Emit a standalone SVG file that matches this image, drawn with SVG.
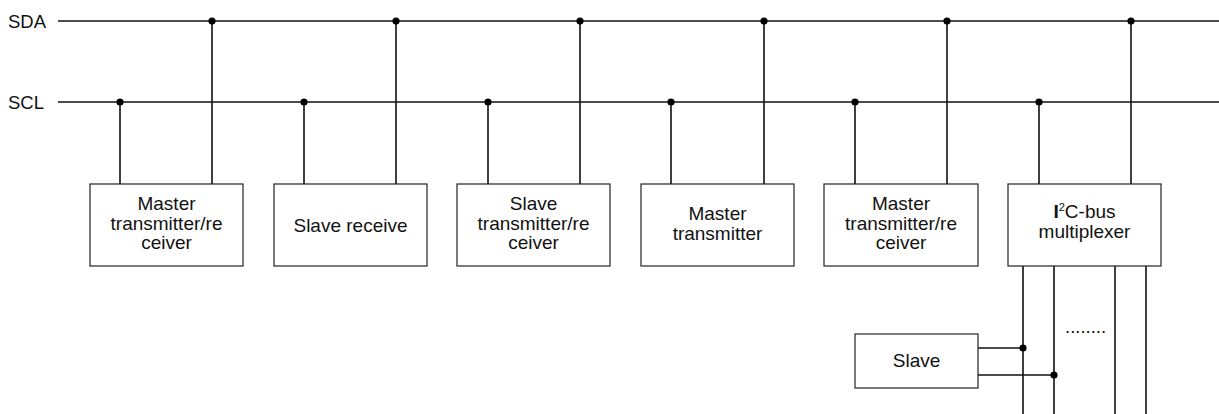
<svg xmlns="http://www.w3.org/2000/svg" width="1219" height="414" viewBox="0 0 1219 414">
<style>
.box{fill:#fff;stroke:#222;stroke-width:1.2}
.w{stroke:#111;stroke-width:1.6;fill:none}
.t{font-family:"Liberation Sans",Arial,sans-serif;font-size:19px;fill:#111;text-anchor:middle}
.l{font-family:"Liberation Sans",Arial,sans-serif;font-size:18.5px;fill:#111}
.d{fill:#000}
</style>
<rect width="1219" height="414" fill="#fff"/>
<text class="l" x="8" y="27.5">SDA</text>
<text class="l" x="8" y="108.5">SCL</text>
<g id="connectors">
<line class="w" x1="58" y1="21" x2="1219" y2="21"/>
<line class="w" x1="58" y1="102" x2="1219" y2="102"/>
<path class="w" d="M120 102V184M212 21V184M304 102V184M396 21V184M488 102V184M580 21V184M671 102V184M764 21V184M855 102V184M947 21V184M1039 102V184M1131 21V184"/>
<path class="w" d="M1023 266V414M1054 266V414M1115 266V414M1146 266V414"/>
<path class="w" d="M978 348H1023M978 375H1054"/>
<g class="d">
<circle cx="212" cy="21" r="3.6"/><circle cx="396" cy="21" r="3.6"/><circle cx="580" cy="21" r="3.6"/><circle cx="764" cy="21" r="3.6"/><circle cx="947" cy="21" r="3.6"/><circle cx="1131" cy="21" r="3.6"/>
<circle cx="120" cy="102" r="3.6"/><circle cx="304" cy="102" r="3.6"/><circle cx="488" cy="102" r="3.6"/><circle cx="671" cy="102" r="3.6"/><circle cx="855" cy="102" r="3.6"/><circle cx="1039" cy="102" r="3.6"/>
<circle cx="1023" cy="348" r="3.6"/><circle cx="1054" cy="375" r="3.6"/>
</g>
</g>
<g id="n1"><rect class="box" x="90" y="184" width="153" height="82"/>
<text class="t" x="166.5" y="210">Master</text><text class="t" x="166.5" y="229.5">transmitter/re</text><text class="t" x="166.5" y="249">ceiver</text></g>
<g id="n2"><rect class="box" x="274" y="184" width="153" height="82"/>
<text class="t" x="350.5" y="231.5">Slave receive</text></g>
<g id="n3"><rect class="box" x="457" y="184" width="153" height="82"/>
<text class="t" x="533.5" y="210">Slave</text><text class="t" x="533.5" y="229.5">transmitter/re</text><text class="t" x="533.5" y="249">ceiver</text></g>
<g id="n4"><rect class="box" x="641" y="184" width="153" height="82"/>
<text class="t" x="717.5" y="220">Master</text><text class="t" x="717.5" y="239.5">transmitter</text></g>
<g id="n5"><rect class="box" x="824" y="184" width="154" height="82"/>
<text class="t" x="901" y="210">Master</text><text class="t" x="901" y="229.5">transmitter/re</text><text class="t" x="901" y="249">ceiver</text></g>
<g id="n6"><rect class="box" x="1008" y="184" width="153" height="82"/>
<text class="t" x="1084.5" y="218"><tspan font-weight="bold">I</tspan><tspan font-size="11" dy="-7">2</tspan><tspan dy="7">C-bus</tspan></text>
<text class="t" x="1084.5" y="238">multiplexer</text></g>
<g id="n7"><rect class="box" x="855" y="334" width="123" height="54"/>
<text class="t" x="916.5" y="367">Slave</text></g>
<text class="l" x="1065" y="333" font-size="16">........</text>
</svg>
